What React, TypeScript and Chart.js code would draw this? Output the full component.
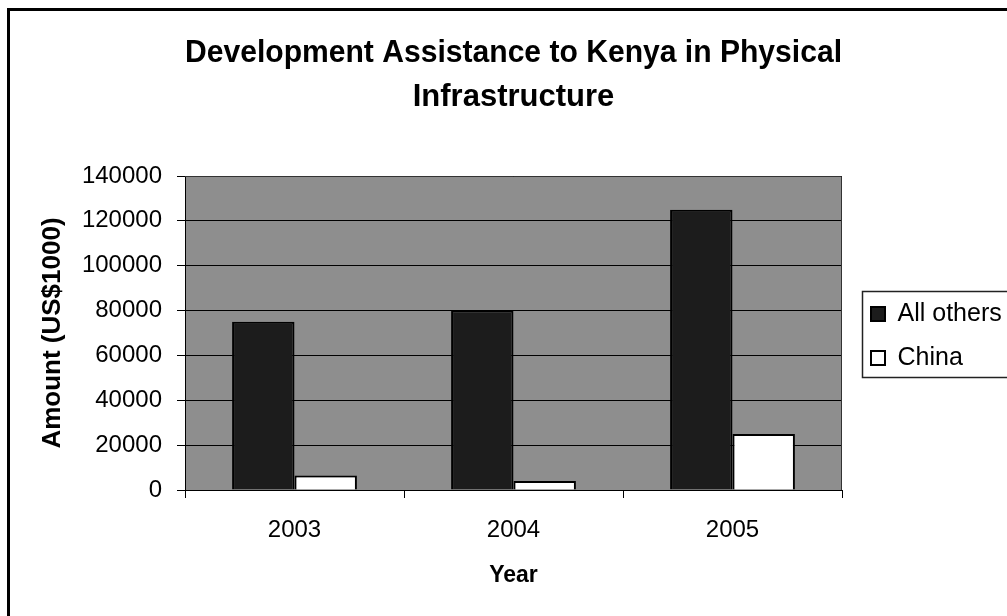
import React, { useEffect, useRef } from "react";
import { Chart, registerables } from "chart.js";

Chart.register(...registerables);

const categories = ["2003", "2004", "2005"];
const allOthers = [75000, 80000, 125000];
const china = [6500, 4000, 25000];
const yMax = 140000;
const yStep = 20000;
const titleLines = ["Development Assistance to Kenya in Physical", "Infrastructure"];
const yTitle = "Amount (US$1000)";
const xTitle = "Year";
const seriesNames = ["All others", "China"];

const FONT = "'Liberation Sans', Arial, Helvetica, sans-serif";

const framePlugin = {
  id: "framePlugin",
  beforeDraw(chart: any) {
    const { ctx, chartArea, width, height } = chart;
    ctx.save();
    ctx.fillStyle = "#ffffff";
    ctx.fillRect(0, 0, width, height);
    ctx.fillStyle = "#000000";
    ctx.fillRect(7, 8, 3, height);
    ctx.fillRect(7, 8, width, 3);
    ctx.fillStyle = "#8e8e8e";
    ctx.fillRect(chartArea.left, chartArea.top, chartArea.right - chartArea.left, chartArea.bottom - chartArea.top);
    ctx.restore();
  },
  afterDatasetsDraw(chart: any) {
    const { ctx, chartArea } = chart;
    ctx.save();
    ctx.strokeStyle = "#333333";
    ctx.lineWidth = 1;
    ctx.beginPath();
    ctx.moveTo(chartArea.left, chartArea.top + 0.5);
    ctx.lineTo(chartArea.right - 0.5, chartArea.top + 0.5);
    ctx.lineTo(chartArea.right - 0.5, chartArea.bottom);
    ctx.stroke();
    ctx.restore();
  },
  afterDraw(chart: any) {
    const lg = chart.legend;
    if (!lg || !lg.legendHitBoxes || !lg.legendHitBoxes.length) return;
    const boxes = lg.legendHitBoxes;
    const first = boxes[0];
    const last = boxes[boxes.length - 1];
    const { ctx } = chart;
    ctx.save();
    ctx.strokeStyle = "#222222";
    ctx.lineWidth = 1.5;
    const x = first.left - 9;
    const y = first.top - 10.5;
    const b = last.top + last.height + 6.5;
    ctx.strokeRect(x + 0.5, y + 0.5, chart.width + 20 - x, b - y);
    ctx.restore();
  },
};

export default function App() {
  const ref = useRef<HTMLCanvasElement | null>(null);

  useEffect(() => {
    if (!ref.current) return;
    const chart = new Chart(ref.current, {
      type: "bar",
      data: {
        labels: categories,
        datasets: [
          {
            label: seriesNames[0],
            data: allOthers,
            backgroundColor: "#1c1c1c",
            borderColor: "#000000",
            borderWidth: 2,
            categoryPercentage: 0.57,
            barPercentage: 1,
          },
          {
            label: seriesNames[1],
            data: china,
            backgroundColor: "#ffffff",
            borderColor: "#000000",
            borderWidth: 2,
            categoryPercentage: 0.57,
            barPercentage: 1,
          },
        ],
      },
      options: {
        responsive: false,
        animation: false,
        devicePixelRatio: 1,
        layout: { padding: { top: 0, left: 0, right: 0, bottom: 0 } },
        plugins: {
          title: {
            display: true,
            text: titleLines,
            fullSize: false,
            color: "#000000",
            font: { family: FONT, size: 31, weight: "bold", lineHeight: 44 / 31 },
            padding: { top: 31, bottom: 57 },
          },
          legend: {
            display: true,
            position: "right",
            fullSize: false,
            maxWidth: 155,
            title: { display: true, text: "", padding: 0, font: { size: 5, lineHeight: 1.2 } },
            labels: {
              color: "#000000",
              font: { family: FONT, size: 25 },
              boxWidth: 14,
              boxHeight: 14,
              padding: 19,
            },
          },
          tooltip: { enabled: false },
        },
        scales: {
          x: {
            grid: {
              display: true,
              drawOnChartArea: false,
              drawTicks: true,
              tickLength: 8,
              color: "#000000",
              lineWidth: 1,
            },
            border: { display: true, color: "#000000", width: 1 },
            ticks: {
              color: "#000000",
              font: { family: FONT, size: 24 },
              padding: 18,
            },
            title: {
              display: true,
              text: xTitle,
              color: "#000000",
              font: { family: FONT, size: 23, weight: "bold", lineHeight: 1.2 },
              padding: { top: 0, bottom: 27 },
            },
            afterFit: (s: any) => {
              s.height = 126;
            },
          },
          y: {
            min: 0,
            max: yMax,
            grid: {
              display: true,
              drawOnChartArea: true,
              drawTicks: true,
              tickLength: 8,
              color: "#000000",
              lineWidth: 1,
            },
            border: { display: true, color: "#000000", width: 1 },
            ticks: {
              stepSize: yStep,
              color: "#000000",
              font: { family: FONT, size: 24 },
              padding: 15,
              callback: (v: any) => String(v),
            },
            title: {
              display: true,
              text: yTitle,
              color: "#000000",
              font: { family: FONT, size: 26, weight: "bold", lineHeight: 1.2 },
              padding: { top: 37, bottom: 0 },
            },
            afterFit: (s: any) => {
              s.width = 185;
            },
          },
          y2: {
            type: "linear",
            position: "right",
            display: true,
            grid: { display: false, drawTicks: false },
            border: { display: false },
            ticks: { display: false },
            afterFit: (s: any) => {
              s.width = 10;
            },
          },
        },
      },
      plugins: [framePlugin],
    } as any);
    return () => chart.destroy();
  }, []);

  return (
    <div style={{ position: "fixed", left: 0, top: 0, width: 1007, height: 616, background: "#fff" }}>
      <canvas ref={ref} width={1007} height={616} style={{ display: "block", width: 1007, height: 616 }} />
    </div>
  );
}
